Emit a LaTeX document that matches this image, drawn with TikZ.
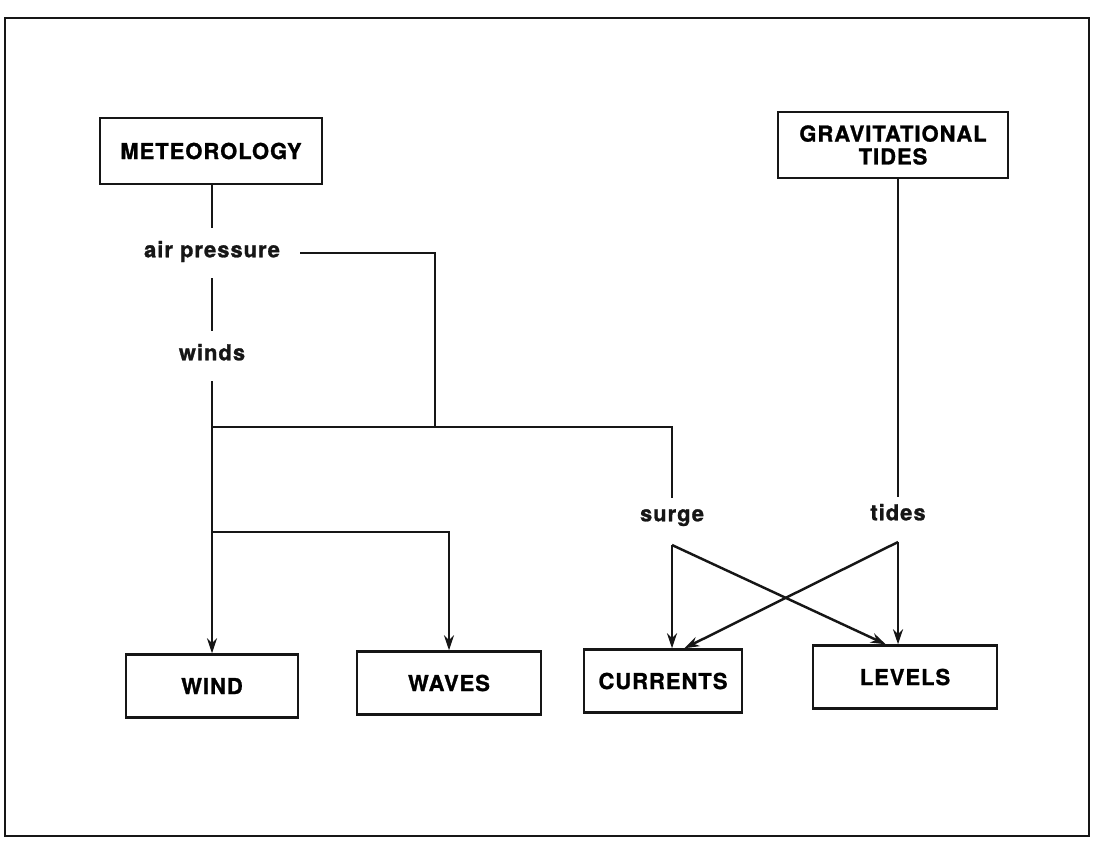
\documentclass[tikz,border=0pt]{standalone}
\usepackage{fontspec}
\setmainfont{TeX Gyre Heros}
\newfontfamily\chartfont{TeX Gyre Heros}[LetterSpace=4.5, BoldFeatures={FakeBold=1.2}]
\usetikzlibrary{positioning,calc,arrows.meta}
\definecolor{chartInk}{HTML}{161616}
\tikzset{
  frame line/.style={draw=chartInk, line width=1.6pt},
  source box/.style={
    rectangle, draw=chartInk, line width=1.4pt,
    font=\chartfont\fontsize{12.5}{13}\selectfont\bfseries,
    align=center, inner sep=2pt,
    minimum width=4.44cm, minimum height=1.32cm,
  },
  effect box/.style={
    rectangle, draw=chartInk, line width=1.4pt,
    font=\chartfont\fontsize{12.5}{14}\selectfont\bfseries,
    inner sep=2pt,
    minimum width=#1, minimum height=1.26cm,
  },
  effect box/.default=3.5cm,
  path label/.style={
    font=\chartfont\fontsize{12.5}{14}\selectfont\bfseries, text=chartInk,
    text height=0.25cm, text depth=0.08cm,
    inner xsep=0.4cm, inner ysep=0.33cm,
  },
  link/.style={draw=chartInk, line width=1.4pt},
  feed/.style={link, -{Stealth[length=0.3cm, width=0.2cm]}},
}

\begin{document}
\begin{tikzpicture}[x=0.02cm, y=-0.02cm]
\useasboundingbox (0,0) rectangle (1097,842);

% --- outer frame ---
\draw[frame line] (5,18) rectangle (1089,836);

% --- sources ---
\node[source box] (met) at (211,151) {METEOROLOGY};
\node[source box, minimum width=4.6cm] (grav) at (893,145) {GRAVITATIONAL\\TIDES};

% --- labels along the paths ---
\node[path label] (airp) at (212,253) {air pressure};
\node[path label] (winds) at (212,356) {winds};
\node[path label, inner ysep=0.2cm] (surge) at (672,517) {surge};
\node[path label, inner ysep=0.2cm] (tides) at (898,516) {tides};

% --- effects ---
\node[effect box=3.44cm] (wind) at (212,686) {WIND};
\node[effect box=3.68cm] (waves) at (449,683) {WAVES};
\node[effect box=3.16cm] (cur) at (663,681) {CURRENTS};
\node[effect box=3.68cm] (lvl) at (905,677) {LEVELS};

% --- junctions ---
\coordinate (apCorner) at (435,253);
\coordinate (mainJoin) at (212,427);
\coordinate (waveJoin) at (212,532);
\coordinate (surgeTop) at (672,545);
\coordinate (tidesTop) at (898,542);

% meteorology branch
\draw[link] (met.south -| airp.north) -- (airp.north);
\draw[link] (airp.south) -- (winds.north);
\draw[link] (airp.east) -- (apCorner) -- (apCorner |- mainJoin);
\draw[link] (mainJoin) -| (surge.north);
\draw[feed] (winds.south) -- (wind.north);
\draw[feed] (waveJoin) -| (waves.north);

% tide branch
\draw[link] (tides.north |- grav.south) -- (tides.north);

% crossing arrows
\draw[feed] (surgeTop) -- (surgeTop |- cur.north);
\draw[feed] (surgeTop) -- ([xshift=-7pt]tidesTop |- lvl.north);
\draw[feed] (tidesTop) -- (tidesTop |- lvl.north);
\draw[feed] (tidesTop) -- ([xshift=7pt]surgeTop |- cur.north);

\end{tikzpicture}
\end{document}
